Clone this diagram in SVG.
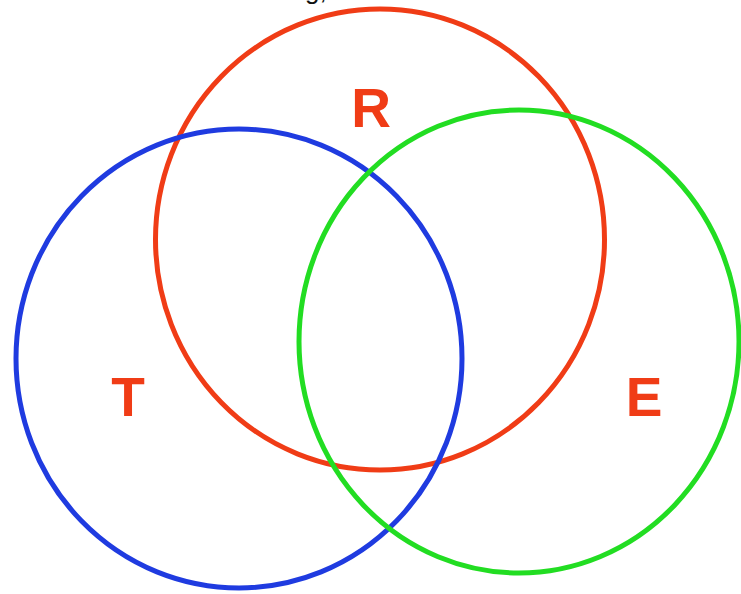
<svg xmlns="http://www.w3.org/2000/svg" width="741" height="594" viewBox="0 0 741 594">
<style>
.c{fill:none;stroke-width:5}
.lbl{font-family:"Liberation Sans",Arial,sans-serif;font-weight:bold;font-size:55px;fill:#f03c16;text-anchor:middle}
.top{font-family:"Liberation Sans",Arial,sans-serif;font-size:26px;fill:#111}
</style>
<rect width="741" height="594" fill="#fff"/>
<text class="top" x="305" y="-1">g,</text>
<g id="sets">
<g id="R"><ellipse class="c" cx="380" cy="239.5" rx="224.5" ry="230.5" stroke="#f03c16"/></g>
<g id="T"><ellipse class="c" cx="239" cy="358.5" rx="223" ry="229.5" stroke="#1f3be0"/></g>
<g id="E"><ellipse class="c" cx="519" cy="341.5" rx="220" ry="231.5" stroke="#22dd22"/></g>
</g>
<g id="labels">
<text class="lbl" x="371" y="127">R</text>
<text class="lbl" x="128" y="416">T</text>
<text class="lbl" x="644" y="416">E</text>
</g>
</svg>
